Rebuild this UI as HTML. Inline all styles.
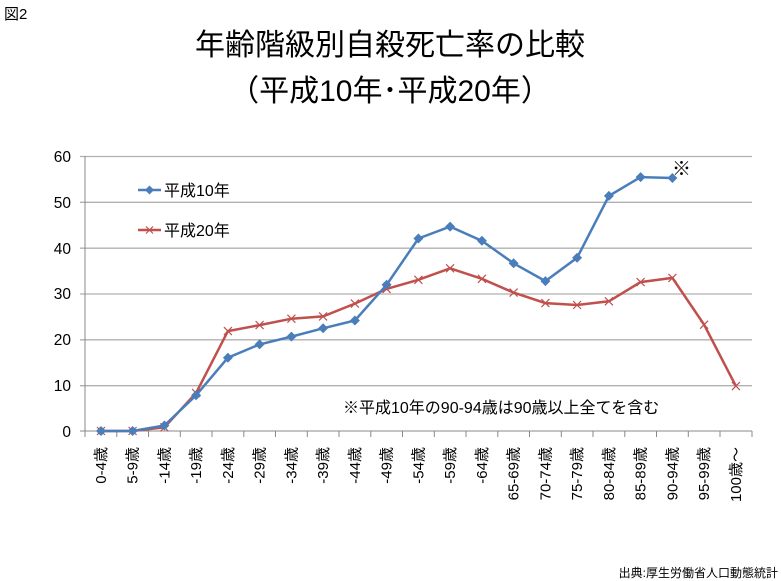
<!DOCTYPE html><html><head><meta charset="utf-8"><style>body{margin:0;background:#fff}svg{display:block}text{font-family:"Liberation Sans","Noto Sans CJK JP",sans-serif}</style></head><body>
<svg width="781" height="581" viewBox="0 0 781 581">
<text x="4" y="19" font-size="15">図2</text>
<text x="390" y="55" font-size="30" text-anchor="middle">年齢階級別自殺死亡率の比較</text>
<text x="390" y="101" font-size="30" text-anchor="middle">（平成10年･平成20年）</text>
<g stroke="#b0b0b0" stroke-width="1.3">
<line x1="80" y1="156.5" x2="752" y2="156.5"/><line x1="80" y1="202.3" x2="752" y2="202.3"/><line x1="80" y1="248.2" x2="752" y2="248.2"/><line x1="80" y1="294" x2="752" y2="294"/><line x1="80" y1="339.8" x2="752" y2="339.8"/><line x1="80" y1="385.7" x2="752" y2="385.7"/>
</g>
<g stroke="#888" stroke-width="1">
<line x1="85" y1="156" x2="85" y2="431"/><line x1="80" y1="431" x2="752" y2="431"/>
<path d="M85 431v6M116.8 431v6M148.5 431v6M180.3 431v6M212 431v6M243.8 431v6M275.5 431v6M307.3 431v6M339 431v6M370.8 431v6M402.5 431v6M434.3 431v6M466 431v6M497.8 431v6M529.5 431v6M561.3 431v6M593 431v6M624.8 431v6M656.5 431v6M688.3 431v6M720 431v6M752 431v6"/>
</g>
<g font-size="15.5" text-anchor="end">
<text x="71" y="162">60</text><text x="71" y="208">50</text><text x="71" y="254">40</text><text x="71" y="299">30</text><text x="71" y="345">20</text><text x="71" y="391">10</text><text x="71" y="437">0</text>
</g>
<g font-size="15" text-anchor="end">
<text transform="translate(106,447) rotate(-90)">0-4歳</text>
<text transform="translate(137.6,447) rotate(-90)">5-9歳</text>
<text transform="translate(169.4,447) rotate(-90)">-14歳</text>
<text transform="translate(201.1,447) rotate(-90)">-19歳</text>
<text transform="translate(232.9,447) rotate(-90)">-24歳</text>
<text transform="translate(264.6,447) rotate(-90)">-29歳</text>
<text transform="translate(296.4,447) rotate(-90)">-34歳</text>
<text transform="translate(328.1,447) rotate(-90)">-39歳</text>
<text transform="translate(359.9,447) rotate(-90)">-44歳</text>
<text transform="translate(391.6,447) rotate(-90)">-49歳</text>
<text transform="translate(423.4,447) rotate(-90)">-54歳</text>
<text transform="translate(455.1,447) rotate(-90)">-59歳</text>
<text transform="translate(486.9,447) rotate(-90)">-64歳</text>
<text transform="translate(518.6,447) rotate(-90)">65-69歳</text>
<text transform="translate(550.4,447) rotate(-90)">70-74歳</text>
<text transform="translate(582.1,447) rotate(-90)">75-79歳</text>
<text transform="translate(613.9,447) rotate(-90)">80-84歳</text>
<text transform="translate(645.6,447) rotate(-90)">85-89歳</text>
<text transform="translate(677.4,447) rotate(-90)">90-94歳</text>
<text transform="translate(709.1,447) rotate(-90)">95-99歳</text>
<text transform="translate(740.9,447) rotate(-90)">100歳～</text>
</g>
<polyline fill="none" stroke="#c0504d" stroke-width="2.5" points="101,431 132.6,431 164.4,427.3 196.1,393 227.9,331.1 259.6,325.1 291.4,318.7 323.1,316.4 354.9,303.6 386.6,288.9 418.4,279.8 450.1,268.3 481.9,278.8 513.6,292.6 545.4,303.1 577.1,305 608.9,301.3 640.6,282.1 672.4,277.9 704.1,324.7 735.9,386.1"/>
<g stroke="#c0504d" stroke-width="1.2">
<path d="M97 427l8 8m0-8l-8 8M128.6 427l8 8m0-8l-8 8M160.4 423.3l8 8m0-8l-8 8M192.1 389l8 8m0-8l-8 8M223.9 327.1l8 8m0-8l-8 8M255.6 321.1l8 8m0-8l-8 8M287.4 314.7l8 8m0-8l-8 8M319.1 312.4l8 8m0-8l-8 8M350.9 299.6l8 8m0-8l-8 8M382.6 284.9l8 8m0-8l-8 8M414.4 275.8l8 8m0-8l-8 8M446.1 264.3l8 8m0-8l-8 8M477.9 274.8l8 8m0-8l-8 8M509.6 288.6l8 8m0-8l-8 8M541.4 299.1l8 8m0-8l-8 8M573.1 301l8 8m0-8l-8 8M604.9 297.3l8 8m0-8l-8 8M636.6 278.1l8 8m0-8l-8 8M668.4 273.9l8 8m0-8l-8 8M700.1 320.7l8 8m0-8l-8 8M731.9 382.1l8 8m0-8l-8 8"/>
</g>
<polyline fill="none" stroke="#4a7ebb" stroke-width="2.5" points="101,431 132.6,431 164.4,425.5 196.1,395.3 227.9,357.7 259.6,344.4 291.4,336.6 323.1,328.3 354.9,320.5 386.6,284.8 418.4,238.5 450.1,226.6 481.9,240.8 513.6,263.3 545.4,281.1 577.1,257.8 608.9,195.9 640.6,177.1 672.4,178"/>
<g fill="#4a7ebb">
<path d="M101 426l5 5-5 5-5-5zM132.6 426l5 5-5 5-5-5zM164.4 420.5l5 5-5 5-5-5zM196.1 390.3l5 5-5 5-5-5zM227.9 352.7l5 5-5 5-5-5zM259.6 339.4l5 5-5 5-5-5zM291.4 331.6l5 5-5 5-5-5zM323.1 323.3l5 5-5 5-5-5zM354.9 315.5l5 5-5 5-5-5zM386.6 279.8l5 5-5 5-5-5zM418.4 233.5l5 5-5 5-5-5zM450.1 221.6l5 5-5 5-5-5zM481.9 235.8l5 5-5 5-5-5zM513.6 258.3l5 5-5 5-5-5zM545.4 276.1l5 5-5 5-5-5zM577.1 252.8l5 5-5 5-5-5zM608.9 190.9l5 5-5 5-5-5zM640.6 172.1l5 5-5 5-5-5zM672.4 173l5 5-5 5-5-5z"/>
</g>
<line x1="138" y1="190" x2="161" y2="190" stroke="#4a7ebb" stroke-width="2.5"/>
<path d="M149.5 185.5l4.5 4.5-4.5 4.5-4.5-4.5z" fill="#4a7ebb"/>
<text x="164" y="196" font-size="16">平成10年</text>
<line x1="138" y1="230" x2="161" y2="230" stroke="#c0504d" stroke-width="2.5"/>
<path d="M146 226.5l7 7m0-7l-7 7" stroke="#c0504d" stroke-width="1.2"/>
<text x="164" y="236" font-size="16">平成20年</text>
<text x="672" y="175" font-size="19">※</text>
<text x="343" y="413" font-size="16">※平成10年の90-94歳は90歳以上全てを含む</text>
<text x="778" y="577" font-size="12" text-anchor="end">出典:厚生労働省人口動態統計</text>
</svg></body></html>
